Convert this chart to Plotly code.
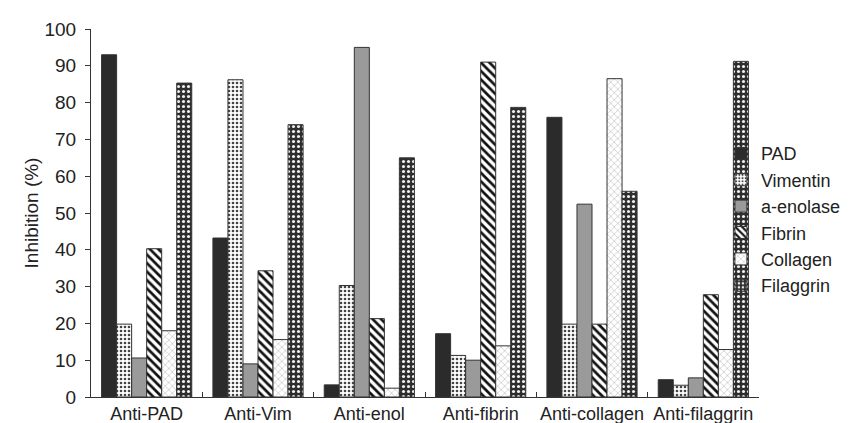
import plotly.graph_objects as go

categories = ["Anti-PAD", "Anti-Vim", "Anti-enol", "Anti-fibrin", "Anti-collagen", "Anti-filaggrin"]
series_names = ["PAD", "Vimentin", "a-enolase", "Fibrin", "Collagen", "Filaggrin"]
pad = [93.0, 43.2, 3.3, 17.2, 76.0, 4.7]
vimentin = [19.8, 86.2, 30.3, 11.3, 19.8, 3.2]
a_enolase = [10.6, 9.0, 95.0, 10.0, 52.4, 5.2]
fibrin = [40.3, 34.3, 21.3, 91.0, 19.8, 27.8]
collagen = [18.0, 15.6, 2.4, 13.9, 86.5, 12.9]
filaggrin = [85.3, 74.0, 65.0, 78.7, 55.9, 91.2]
y_ticks = list(range(0, 101, 10))

values = [pad, vimentin, a_enolase, fibrin, collagen, filaggrin]
styles = [
    dict(color="#2b2b2b", pattern=dict(shape="")),
    dict(color="white", pattern=dict(shape=".", fgcolor="#444", bgcolor="white", size=4, solidity=0.35, fillmode="replace")),
    dict(color="#9a9a9a", pattern=dict(shape="")),
    dict(color="white", pattern=dict(shape="\\", fgcolor="#111", bgcolor="white", size=6, solidity=0.45, fillmode="replace")),
    dict(color="white", pattern=dict(shape="x", fgcolor="#999", bgcolor="white", size=5, solidity=0.15, fillmode="replace")),
    dict(color="#333", pattern=dict(shape=".", fgcolor="#f0f0f0", bgcolor="#2e2e2e", size=5, solidity=0.3, fillmode="replace")),
]

fig = go.Figure()
for name, vals, st in zip(series_names, values, styles):
    fig.add_trace(go.Bar(
        name=name, x=categories, y=vals,
        marker=dict(color=st["color"], pattern=st["pattern"], line=dict(color="#333", width=1)),
    ))

fig.update_layout(
    width=856, height=423,
    barmode="group", bargap=0.19, bargroupgap=0,
    plot_bgcolor="white", paper_bgcolor="white",
    margin=dict(l=83, r=105, t=21, b=34, autoexpand=False),
    font=dict(family="Liberation Sans, Arial, sans-serif", size=20, color="#222"),
    legend=dict(x=0.943, y=0.482, xanchor="left", yanchor="middle", font=dict(size=18),
                itemwidth=30, tracegroupgap=0, bgcolor="rgba(0,0,0,0)"),
    yaxis=dict(range=[0, 100], tickvals=y_ticks, showline=True, linecolor="#333", linewidth=1,
               ticks="outside", ticklen=5, tickcolor="#333", showgrid=False, zeroline=False,
               ticklabelstandoff=5,
               title=dict(text="Inhibition (%)", font=dict(size=19), standoff=0),
               tickfont=dict(size=19), automargin=False),
    xaxis=dict(showline=True, linecolor="#333", linewidth=1, ticks="inside", ticklen=5,
               tickson="boundaries", tickcolor="#333", showgrid=False, tickfont=dict(size=18),
               tickangle=0, automargin=False),
)

fig.write_html("out.html")
